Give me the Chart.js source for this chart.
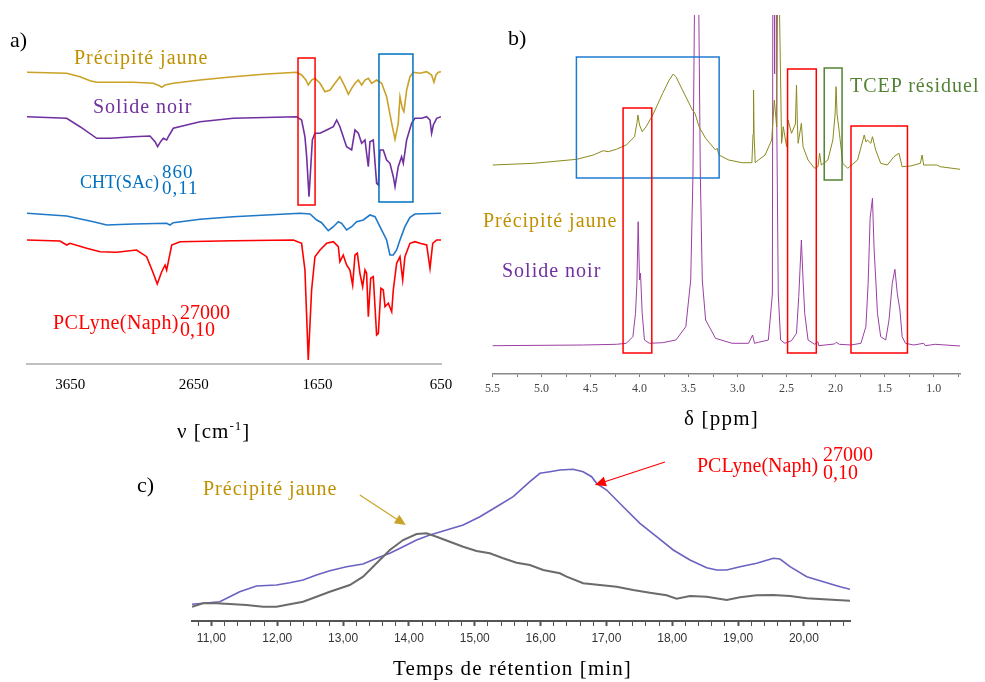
<!DOCTYPE html>
<html>
<head>
<meta charset="utf-8">
<script src="https://cdn.jsdelivr.net/npm/chart.js@4.4.1/dist/chart.umd.min.js"></script>
<style>
  body { margin: 0; background: #fff; width: 985px; height: 682px; position: relative; overflow: hidden; font-family: "Liberation Serif", serif; }
  canvas { position: absolute; }
  .t { position: absolute; white-space: nowrap; font-size: 20px; line-height: 24px; letter-spacing: 1px; }
  .p { font-size: 22px; line-height: 26px; color: #000; letter-spacing: 0; }
</style>
</head>
<body>
<canvas id="irChart" width="480" height="440" style="left:0;top:0"></canvas>
<canvas id="nmrChart" width="505" height="440" style="left:480px;top:0"></canvas>
<canvas id="secChart" width="855" height="242" style="left:130px;top:440px"></canvas>

<!-- panel a -->
<div class="t p" style="left:10px;top:27px">a)</div>
<div class="t" style="left:74px;top:45px;color:#bf9000">Précipité jaune</div>
<div class="t" style="left:93px;top:94px;color:#7030a0">Solide noir</div>
<div class="t" style="left:80px;top:170px;color:#0070c0;font-size:18px;letter-spacing:0">CHT(SAc)</div>
<div class="t" style="left:162px;top:160px;color:#0070c0;font-size:19px">860</div>
<div class="t" style="left:162px;top:176px;color:#0070c0;font-size:19px">0,11</div>
<div class="t" style="left:53px;top:310px;color:#ff0000;letter-spacing:0.4px">PCLyne(Naph)</div>
<div class="t" style="left:180px;top:300px;color:#ff0000;letter-spacing:0">27000</div>
<div class="t" style="left:180px;top:317px;color:#ff0000;letter-spacing:0">0,10</div>
<div class="t" style="left:177px;top:414px;font-size:21px;color:#000">ν [cm<sup style="font-size:13px">-1</sup>]</div>

<!-- panel b -->
<div class="t p" style="left:508px;top:25px">b)</div>
<div class="t" style="left:850px;top:73px;color:#548235">TCEP résiduel</div>
<div class="t" style="left:483px;top:208px;color:#bf9000">Précipité jaune</div>
<div class="t" style="left:502px;top:258px;color:#7030a0">Solide noir</div>
<div class="t" style="left:684px;top:406px;color:#000;font-size:21px;letter-spacing:1.2px">δ [ppm]</div>

<!-- panel c -->
<div class="t p" style="left:137px;top:472px">c)</div>
<div class="t" style="left:203px;top:476px;color:#bf9000">Précipité jaune</div>
<div class="t" style="left:697px;top:453px;color:#ff0000;letter-spacing:0">PCLyne(Naph)</div>
<div class="t" style="left:823px;top:442px;color:#ff0000;letter-spacing:0">27000</div>
<div class="t" style="left:823px;top:460px;color:#ff0000;letter-spacing:0">0,10</div>
<div class="t" style="left:393px;top:656px;color:#000;font-size:21px;letter-spacing:1.1px">Temps de rétention [min]</div>

<script>
// ---- a) IR spectra: [wavenumber cm-1, signal] ----
const irPrecipite = [[4000,291.7],[3679,290.7],[3571,287.3],[3490,283.3],[3436,281.7],[3140,281.7],[2978,280.7],[2924,278],[2910,276.7],[2883,279],[2816,280.7],[2600,284],[2331,287.3],[2061,290],[1818,291.7],[1778,289],[1743,284],[1724,279],[1697,284],[1670,285.7],[1629,280.7],[1589,272.3],[1548,274],[1508,280.7],[1468,287.3],[1427,277.3],[1400,269.7],[1373,275.7],[1346,280.7],[1319,284],[1292,279],[1265,284],[1238,285.7],[1211,280.7],[1171,284],[1130,280.7],[1090,267.3],[1049,240.7],[1022,224.7],[996,240.7],[982,267.3],[963,255.7],[950,252.3],[928,274],[901,287.3],[874,291.7],[820,290.7],[766,292.3],[726,289],[707,281.7],[691,289],[672,291.7],[650,292.3]];
const irSolide = [[4000,247.3],[3679,245.7],[3571,237.3],[3436,225.7],[3328,225.7],[3140,227.3],[3005,228],[2964,222.3],[2943,217.3],[2919,222.3],[2897,225.7],[2870,224],[2856,227.3],[2816,235.7],[2600,242.3],[2331,245.7],[1818,247.3],[1778,244],[1751,227.3],[1737,207.3],[1718,167.3],[1702,200.7],[1691,224],[1670,230.7],[1629,230.7],[1575,234],[1521,237.3],[1494,244],[1468,237.3],[1441,227.3],[1414,217.3],[1373,214],[1346,234],[1319,230.7],[1292,220.7],[1265,224],[1252,210.7],[1238,197.3],[1225,222.3],[1198,224],[1171,180.7],[1157,179],[1144,214],[1117,214],[1090,204],[1063,200.7],[1036,187.3],[1022,177.3],[996,197.3],[969,207.3],[955,200.7],[928,224],[888,240.7],[861,245.7],[807,245.7],[766,247.3],[739,244],[726,230.7],[712,239],[685,245.7],[650,247.3]];
const irCHT = [[4000,150.7],[3679,148],[3463,142.3],[3355,139],[3140,140],[2870,140.7],[2843,139],[2816,141.3],[2600,144.7],[2331,147.3],[1791,150.7],[1710,150],[1656,144],[1616,141.3],[1562,133.3],[1521,137.3],[1481,142.3],[1454,140.7],[1414,134],[1373,137.3],[1333,142.3],[1279,144],[1225,149],[1184,147.3],[1144,137.3],[1090,124],[1063,109],[1036,109],[1009,114],[982,124],[942,137.3],[901,146.7],[861,150],[650,150.7]];
const irPCLyne = [[4000,124],[3733,123],[3679,119],[3652,120.7],[3517,115.7],[3409,112.3],[3275,111.7],[3113,114],[3032,107.3],[2978,90.7],[2946,80],[2910,92.3],[2883,99],[2870,94],[2856,102.3],[2829,119],[2762,122.3],[2331,123.3],[1845,124],[1778,120.7],[1751,94],[1724,4],[1697,74],[1670,107.3],[1629,114],[1575,120.7],[1521,122.3],[1481,117.3],[1468,102.3],[1441,109],[1414,99],[1387,94],[1365,79],[1346,109],[1327,110.7],[1306,90.7],[1284,77.3],[1265,94],[1252,90.7],[1238,47.3],[1219,85.7],[1198,87.3],[1171,29],[1157,30.7],[1136,75.7],[1117,74],[1103,57.3],[1076,60.7],[1049,52.3],[1036,74],[1009,100.7],[982,107.3],[960,84],[942,107.3],[901,120.7],[861,122.3],[820,120.7],[766,119],[739,95.7],[717,120.7],[685,124],[650,124]];
const irTicks = [3650, 2650, 1650, 650];

// ---- b) 1H NMR: [delta ppm, intensity] ----
const nmrPrecipite = [[5.5,209],[5.079,210.7],[4.641,214.7],[4.472,219],[4.371,223.3],[4.32,222.3],[4.236,224.7],[4.135,229],[4.051,237.3],[4.027,250.7],[4.017,259],[4.0,249],[3.973,242.3],[3.933,247.3],[3.865,259],[3.764,280.7],[3.697,294],[3.656,300],[3.629,297.3],[3.562,284],[3.461,264],[3.434,260.7],[3.393,247.3],[3.326,235.7],[3.225,224],[3.208,225.7],[3.191,219],[3.09,214],[2.955,211.3],[2.854,211.3],[2.842,240],[2.837,284],[2.832,240],[2.82,211.3],[2.787,214],[2.719,219],[2.652,234],[2.625,274],[2.601,247],[2.59,400],[2.585,900],[2.578,400],[2.551,230.7],[2.534,247.3],[2.5,227.3],[2.484,254],[2.45,240.7],[2.41,250],[2.399,289],[2.39,250],[2.382,230.7],[2.349,250.7],[2.332,227.3],[2.281,214],[2.214,205.7],[2.18,207.3],[2.163,220.7],[2.146,209],[2.079,214],[2.028,234],[2.005,260],[1.995,287.3],[1.985,260],[1.961,240.7],[1.927,210.7],[1.877,205.7],[1.776,214],[1.708,239],[1.69,232],[1.675,234],[1.641,230.7],[1.624,237.3],[1.591,224],[1.54,210.7],[1.472,209],[1.405,217.3],[1.354,220.7],[1.321,207.3],[1.236,208],[1.135,210.7],[1.118,219],[1.102,209],[0.967,209],[0.933,207.3],[0.731,204.7]];
const nmrSolide = [[5.5,28.3],[4.573,29],[4.236,29.7],[4.135,30.7],[4.068,37.3],[4.041,60.7],[4.027,90.7],[4.014,152.3],[4.0,94],[3.99,100.7],[3.973,60.7],[3.95,34],[3.899,30.7],[3.764,31.3],[3.629,34],[3.528,47.3],[3.478,94],[3.455,200],[3.44,360],[3.418,1200],[3.395,360],[3.38,200],[3.36,94],[3.326,54],[3.225,35.7],[3.056,30.7],[2.888,30.7],[2.847,39],[2.827,30.7],[2.787,31.7],[2.686,34],[2.645,80],[2.632,900],[2.622,300],[2.612,900],[2.6,250],[2.585,80],[2.561,34],[2.517,30.7],[2.45,33.3],[2.399,40.7],[2.376,77.3],[2.349,134],[2.332,94],[2.315,60.7],[2.281,34],[2.214,29.7],[2.18,32.3],[2.173,28.3],[2.012,30],[1.995,31.7],[1.961,29.7],[1.843,29],[1.742,30.7],[1.691,47.3],[1.668,90.7],[1.648,155.7],[1.624,175.7],[1.607,124],[1.59,94],[1.573,60.7],[1.54,37.3],[1.489,34],[1.455,54],[1.422,90.7],[1.395,104.7],[1.371,80.7],[1.344,64],[1.321,37.3],[1.287,30.7],[1.203,29],[1.102,30.7],[1.085,28.3],[0.984,29.7],[0.731,28]];
const nmrTicks = [5.5, 5.25, 5.0, 4.75, 4.5, 4.25, 4.0, 3.75, 3.5, 3.25, 3.0, 2.75, 2.5, 2.25, 2.0, 1.75, 1.5, 1.25, 1.0, 0.75];

// ---- c) SEC: [retention time min, detector signal] ----
const secPCLyne = [[10.705,16.7],[10.872,17.7],[11.126,19.3],[11.278,24.3],[11.43,29.3],[11.684,35],[11.988,36],[12.19,38.3],[12.392,41],[12.596,46],[12.798,50.3],[13.052,54.3],[13.304,57],[13.508,62.7],[13.71,67.7],[13.912,74.3],[14.116,81],[14.318,86],[14.571,91],[14.824,96],[15.078,104.3],[15.331,114.3],[15.584,124.3],[15.837,139.3],[15.99,147.7],[16.141,149.3],[16.293,151],[16.495,151.7],[16.647,149.3],[16.775,144.3],[16.851,137.7],[17.003,131],[17.255,114.3],[17.509,97.7],[17.762,84.3],[18.015,71],[18.269,61],[18.523,53.3],[18.675,51],[18.827,51],[19.029,54.3],[19.283,57.7],[19.535,62.7],[19.637,62],[19.789,54.3],[20.043,44.3],[20.295,39.3],[20.549,34.3],[20.7,31.7]];
const secPrecipite = [[10.705,14.3],[10.872,17.7],[11.075,17.7],[11.278,17],[11.531,16],[11.785,14.3],[11.988,14.3],[12.19,16.7],[12.392,19.3],[12.596,24.3],[12.798,29.3],[13.102,36],[13.304,44.3],[13.508,57.7],[13.71,71],[13.912,81],[14.116,87],[14.268,87.7],[14.42,84.3],[14.622,79.3],[14.824,74.3],[15.027,70],[15.229,67.7],[15.432,62.7],[15.635,58.3],[15.837,56],[16.04,51],[16.293,47.7],[16.395,44.3],[16.647,37.7],[16.9,36],[17.155,34.3],[17.407,31],[17.66,28.3],[17.914,25.7],[18.066,22.3],[18.269,25],[18.523,24.3],[18.827,21],[19.029,23.7],[19.283,25.7],[19.535,26],[19.789,25],[20.043,22.7],[20.295,21.7],[20.7,20.3]];
const secTicks = [10.8, 11.0, 11.2, 11.4, 11.6, 11.8, 12.0, 12.2, 12.4, 12.6, 12.8, 13.0, 13.2, 13.4, 13.6, 13.8, 14.0, 14.2, 14.4, 14.6, 14.8, 15.0, 15.2, 15.4, 15.6, 15.8, 16.0, 16.2, 16.4, 16.6, 16.8, 17.0, 17.2, 17.4, 17.6, 17.8, 18.0, 18.2, 18.4, 18.6, 18.8, 19.0, 19.2, 19.4, 19.6, 19.8, 20.0, 20.2, 20.4, 20.6];

Chart.defaults.font.family = '"Liberation Serif", serif';
Chart.defaults.animation = false;
Chart.defaults.elements.point.radius = 0;
Chart.defaults.elements.line.tension = 0;
Chart.defaults.plugins.legend.display = false;
Chart.defaults.plugins.tooltip.enabled = false;

// rectangles and arrows in data coordinates
const marks = {
  id: 'marks',
  afterDatasetsDraw(chart, args, opts) {
    const { ctx, scales: { x, y } } = chart;
    ctx.save();
    (opts.rects || []).forEach(r => {
      const x0 = x.getPixelForValue(r.x0), x1 = x.getPixelForValue(r.x1);
      const y0 = y.getPixelForValue(r.y0), y1 = y.getPixelForValue(r.y1);
      ctx.strokeStyle = r.color;
      ctx.lineWidth = 1.5;
      ctx.strokeRect(Math.min(x0, x1), Math.min(y0, y1), Math.abs(x1 - x0), Math.abs(y1 - y0));
    });
    (opts.arrows || []).forEach(a => {
      const x0 = x.getPixelForValue(a.from[0]), y0 = y.getPixelForValue(a.from[1]);
      const x1 = x.getPixelForValue(a.to[0]), y1 = y.getPixelForValue(a.to[1]);
      const ang = Math.atan2(y1 - y0, x1 - x0);
      ctx.strokeStyle = a.color;
      ctx.fillStyle = a.color;
      ctx.lineWidth = 1.2;
      ctx.beginPath();
      ctx.moveTo(x0, y0);
      ctx.lineTo(x1 - 8 * Math.cos(ang), y1 - 8 * Math.sin(ang));
      ctx.stroke();
      ctx.beginPath();
      ctx.moveTo(x1, y1);
      ctx.lineTo(x1 - 11 * Math.cos(ang) + 5 * Math.sin(ang), y1 - 11 * Math.sin(ang) - 5 * Math.cos(ang));
      ctx.lineTo(x1 - 11 * Math.cos(ang) - 5 * Math.sin(ang), y1 - 11 * Math.sin(ang) + 5 * Math.cos(ang));
      ctx.closePath();
      ctx.fill();
    });
    ctx.restore();
  }
};

function fixTicks(list) {
  return scale => { scale.ticks = list.map(v => ({ value: v })); };
}

// a) IR
new Chart(document.getElementById('irChart'), {
  type: 'line',
  data: {
    datasets: [
      { data: irPrecipite, borderColor: '#c9a227', borderWidth: 1.6 },
      { data: irSolide, borderColor: '#7030a0', borderWidth: 1.6 },
      { data: irCHT, borderColor: '#1f78c8', borderWidth: 1.6 },
      { data: irPCLyne, borderColor: '#ff0000', borderWidth: 1.6 }
    ]
  },
  options: {
    responsive: false,
    layout: { padding: { left: 27, right: 39, top: 30, bottom: 0 } },
    scales: {
      x: {
        type: 'linear', min: 650, max: 4000, reverse: true,
        afterBuildTicks: fixTicks(irTicks),
        afterFit: s => { s.height = 76; },
        grid: { display: false, drawTicks: false },
        border: { display: true, color: '#c0c0c0', width: 2 },
        ticks: { autoSkip: false, maxRotation: 0, padding: 12, color: '#000', font: { size: 15 }, callback: v => String(v) }
      },
      y: { display: false, min: 0, max: 334 }
    },
    plugins: {
      marks: {
        rects: [
          { x0: 1807, x1: 1669, y0: 159, y1: 306, color: '#ff0000' },
          { x0: 1152, x1: 877, y0: 162, y1: 310, color: '#0070c0' }
        ]
      }
    }
  },
  plugins: [marks]
});

// b) NMR
new Chart(document.getElementById('nmrChart'), {
  type: 'line',
  data: {
    datasets: [
      { data: nmrPrecipite, borderColor: '#8a8a1e', borderWidth: 1 },
      { data: nmrSolide, borderColor: '#9b3fa3', borderWidth: 1 }
    ]
  },
  options: {
    responsive: false,
    layout: { padding: { left: 8, right: 25, top: 15, bottom: 0 } },
    scales: {
      x: {
        type: 'linear', min: 0.731, max: 5.5, reverse: true,
        afterBuildTicks: fixTicks(nmrTicks),
        afterFit: s => { s.height = 66; },
        grid: { display: true, drawOnChartArea: false, drawTicks: true, tickLength: 3, color: '#777' },
        border: { display: true, color: '#888', width: 1.5 },
        ticks: {
          autoSkip: false, maxRotation: 0, padding: 5, color: '#444', font: { size: 12 },
          callback: v => Math.abs(v * 2 - Math.round(v * 2)) < 1e-6 ? v.toFixed(1) : ''
        }
      },
      y: { display: false, min: 0, max: 359 }
    },
    plugins: {
      marks: {
        rects: [
          { x0: 4.644, x1: 3.188, y0: 196, y1: 317, color: '#1f7bd0' },
          { x0: 4.168, x1: 3.875, y0: 21, y1: 266, color: '#ff0000' },
          { x0: 2.49, x1: 2.197, y0: 21, y1: 305, color: '#ff0000' },
          { x0: 1.843, x1: 1.267, y0: 21, y1: 248, color: '#ff0000' },
          { x0: 2.116, x1: 1.934, y0: 194, y1: 306, color: '#548235' }
        ]
      }
    }
  },
  plugins: [marks]
});

// c) SEC
new Chart(document.getElementById('secChart'), {
  type: 'line',
  data: {
    datasets: [
      { data: secPrecipite, borderColor: '#6b6b6b', borderWidth: 2 },
      { data: secPCLyne, borderColor: '#6a62c2', borderWidth: 1.6 }
    ]
  },
  options: {
    responsive: false,
    layout: { padding: { left: 62, right: 135, top: 10, bottom: 0 } },
    scales: {
      x: {
        type: 'linear', min: 10.705, max: 20.7,
        afterBuildTicks: fixTicks(secTicks),
        afterFit: s => { s.height = 61; },
        grid: {
          display: true, drawOnChartArea: false, drawTicks: true, tickLength: 5, color: '#555',
          tickWidth: c => (c.tick && Math.abs(c.tick.value - Math.round(c.tick.value)) < 1e-6) ? 2 : 1
        },
        border: { display: true, color: '#555', width: 2 },
        ticks: {
          autoSkip: false, maxRotation: 0, padding: 5, color: '#333',
          font: { family: '"Liberation Sans", Arial, sans-serif', size: 12 },
          callback: v => Math.abs(v - Math.round(v)) < 1e-6 ? v.toFixed(2).replace('.', ',') : ''
        }
      },
      y: { display: false, min: 0, max: 171 }
    },
    plugins: {
      marks: {
        arrows: [
          { from: [13.254, 126], to: [13.953, 96], color: '#c9a227' },
          { from: [17.889, 159], to: [16.825, 136], color: '#ff0000' }
        ]
      }
    }
  },
  plugins: [marks]
});
</script>
</body>
</html>
